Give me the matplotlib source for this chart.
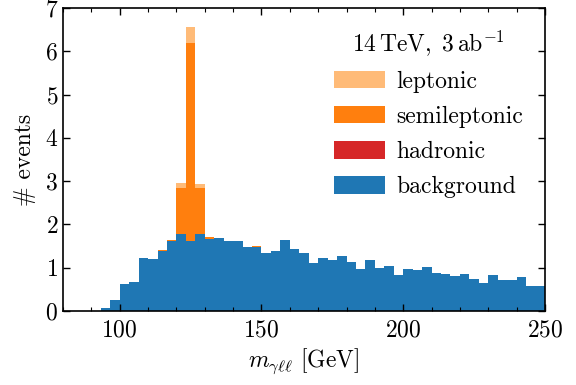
import numpy as np
import matplotlib
matplotlib.use("Agg")
import matplotlib.pyplot as plt
from matplotlib.ticker import MultipleLocator

plt.rcParams['font.family'] = 'serif'
plt.rcParams['font.serif'] = ['cmr10']
plt.rcParams['mathtext.fontset'] = 'cm'
plt.rcParams['axes.formatter.use_mathtext'] = True

# 51 bins from 80 to 250 GeV
bin_lo, bin_hi, n_bins = 80, 250, 51

background = [0, 0, 0, 0, 0.06, 0.25, 0.62, 0.67, 1.23, 1.19,
              1.38, 1.62, 1.78, 1.62, 1.79, 1.67, 1.69, 1.62, 1.62, 1.47,
              1.49, 1.35, 1.38, 1.65, 1.43, 1.33, 1.12, 1.23, 1.18, 1.28,
              1.14, 0.98, 1.18, 1.00, 1.03, 0.83, 0.98, 0.95, 1.02, 0.88,
              0.85, 0.82, 0.85, 0.73, 0.65, 0.83, 0.72, 0.71, 0.78, 0.58,
              0.58]
hadronic = [0.0] * 51
semileptonic = [0.0] * 51
leptonic = [0.0] * 51
semileptonic[10] = 0.02
semileptonic[11] = 0.03
semileptonic[12] = 1.07
semileptonic[13] = 4.56
semileptonic[14] = 1.06
semileptonic[15] = 0.04
semileptonic[20] = 0.02
leptonic[12] = 0.10
leptonic[13] = 0.38
leptonic[14] = 0.09

labels = ['background', 'hadronic', 'semileptonic', 'leptonic']
colors = ['#1f77b4', '#d62728', '#ff7f0e', '#ffbb78']

edges = np.linspace(bin_lo, bin_hi, n_bins + 1)
centers = 0.5 * (edges[:-1] + edges[1:])

fig = plt.figure(figsize=(5.76, 3.85), dpi=100)
ax = fig.add_axes([63/576, 1 - 311/385, (545-63)/576, (311-8)/385])

ax.hist([centers] * 4, bins=edges,
        weights=[background, hadronic, semileptonic, leptonic],
        stacked=True, histtype='stepfilled', color=colors, label=labels)

ax.set_xlim(80, 250)
ax.set_ylim(0, 7)
ax.xaxis.set_major_locator(MultipleLocator(50))
ax.xaxis.set_minor_locator(MultipleLocator(10))
ax.yaxis.set_major_locator(MultipleLocator(1))
ax.tick_params(which='both', direction='in', top=True, right=True, labelsize=17)
ax.tick_params(which='major', length=5, width=1)
ax.tick_params(which='minor', length=3, width=0.8)
ax.tick_params(axis='x', pad=6)
for s in ax.spines.values():
    s.set_linewidth(1.2)

ax.set_xlabel(r'$m_{\gamma\ell\ell}$ [GeV]', fontsize=17, labelpad=4)
ax.set_ylabel(r'# events', fontsize=17, labelpad=6)

h, l = ax.get_legend_handles_labels()
hd = dict(zip(l, h))
names = ['leptonic', 'semileptonic', 'hadronic', 'background']
leg = ax.legend([hd[n] for n in names], names, frameon=False, fontsize=17,
                title=r'$14\,\mathrm{TeV},\ 3\,\mathrm{ab}^{-1}$',
                title_fontsize=17, loc='upper right',
                bbox_to_anchor=(0.975, 0.965), handlelength=2.15,
                handleheight=0.75, labelspacing=0.55, handletextpad=0.5,
                borderaxespad=0.0)

fig.savefig('out.png', dpi=100)
